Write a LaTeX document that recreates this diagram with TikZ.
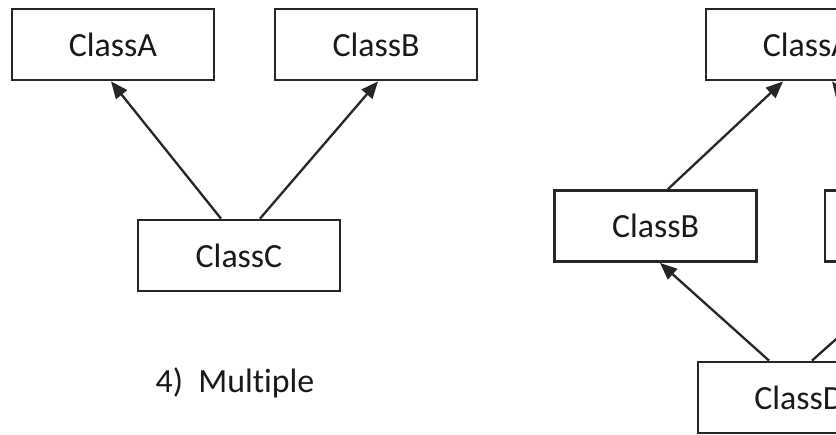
\documentclass[tikz,border=0pt]{standalone}
\usepackage{fontspec}
\setmainfont[RawFeature=-liga]{Carlito}
\usetikzlibrary{arrows.meta}
\tikzset{
  cls/.style={draw=black!85, line width=2.8bp, minimum width=202bp, minimum height=71bp,
    inner sep=0pt, fill=white, font=\fontsize{34}{40}\selectfont, text=black!90},
  inh/.style={draw=black!85, line width=2.3bp,
    -{Triangle[length=17bp, width=14bp]}}
}
\begin{document}
\begin{tikzpicture}[x=1bp, y=-1bp]
\useasboundingbox (0,0) rectangle (836,435);
\fill[white] (0,0) rectangle (836,435);
\clip (0,0) rectangle (836,435);
% left diagram
\node[cls] (A1) at (113,44.5) {ClassA};
\node[cls] (B1) at (376,44.5) {ClassB};
\node[cls] (C1) at (239,255.5) {ClassC};
\node[font=\fontsize{34}{40}\selectfont, text=black!90] (L1) at (235,383) {4)\ \ Multiple};
\draw[inh] ([xshift=-18bp]C1.north) -- ([xshift=-2bp]A1.south);
\draw[inh] ([xshift=21bp]C1.north) -- ([xshift=2bp]B1.south);
% right diagram
\node[cls] (A2) at (807,44.5) {ClassA};
\node[cls] (B2) at (655.5,226) {ClassB};
\node[cls] (C2) at (926,226) {ClassC};
\node[cls] (D2) at (799,397.5) {ClassD};
\draw[inh] ([xshift=12.5bp]B2.north) -- ([xshift=-24bp]A2.south);
\draw[inh] ([xshift=-12.5bp]C2.north) -- ([xshift=25bp]A2.south);
\draw[inh] ([xshift=-30bp]D2.north) -- ([xshift=4.5bp]B2.south);
\draw[inh] ([xshift=13bp]D2.north) -- ([xshift=-4.5bp]C2.south);
\end{tikzpicture}
\end{document}
